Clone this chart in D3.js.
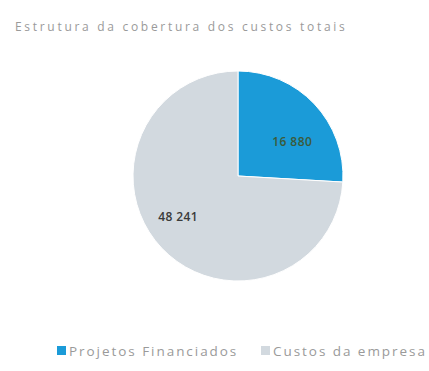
<!DOCTYPE html>
<html>
<head>
<meta charset="utf-8">
<script src="https://cdn.jsdelivr.net/npm/d3@7"></script>
<style>
  html, body { margin: 0; padding: 0; background: #ffffff; }
  svg { display: block; }
</style>
</head>
<body>
<svg id="chart" width="429" height="371"></svg>
<script>
// Coverage structure: share of funded projects vs. company costs
const title = "Estrutura da cobertura dos custos totais";
const categories = ["Projetos Financiados", "Custos da empresa"];
const values = [16880, 48241];
const labels = ["16 880", "48 241"];
const colors = ["#1b9bd8", "#d2d9df"];
const labelColors = ["#3b5a3a", "#3a3a3a"];

const svg = d3.select("#chart");
const cx = 238, cy = 176, radius = 105;

// Title
svg.append("text")
  .attr("x", 15).attr("y", 31)
  .attr("font-family", "Open Sans, sans-serif")
  .attr("font-size", 12)
  .attr("letter-spacing", 2.7)
  .attr("fill", "#9a9a9a")
  .text(title);

const color = d3.scaleOrdinal().domain(categories).range(colors);

const pie = d3.pie().sort(null).value(d => d.value)
  .startAngle(0).endAngle(2 * Math.PI);
const data = categories.map((c, i) => ({ name: c, value: values[i], label: labels[i], lc: labelColors[i] }));
const arcs = pie(data);

const arc = d3.arc().innerRadius(0).outerRadius(radius);
const g = svg.append("g").attr("transform", `translate(${cx},${cy})`);

g.selectAll("path").data(arcs).enter().append("path")
  .attr("d", arc)
  .attr("fill", d => color(d.data.name))
  .attr("stroke", "#ffffff")
  .attr("stroke-width", 1);

// Value labels: placed along each slice's sweep at a chosen fraction and radius
const labelPlace = [{ t: 0.62, r: 0.61 }, { t: 0.534, r: 0.69 }];
function labelPos(d, i) {
  const a = d.startAngle + (d.endAngle - d.startAngle) * labelPlace[i].t;
  const r = radius * labelPlace[i].r;
  return [Math.sin(a) * r, -Math.cos(a) * r];
}
g.selectAll("text.val").data(arcs).enter().append("text")
  .attr("class", "val")
  .attr("transform", (d, i) => {
    const p = labelPos(d, i);
    return `translate(${p[0]},${p[1]})`;
  })
  .attr("text-anchor", "middle")
  .attr("dy", "0.35em")
  .attr("font-family", "Open Sans, sans-serif")
  .attr("font-size", 12)
  .attr("font-weight", 600)
  .attr("letter-spacing", 0.4)
  .attr("fill", d => d.data.lc)
  .text(d => d.data.label);

// Legend
const legendX = [57, 261];
const legend = svg.append("g");
categories.forEach((c, i) => {
  legend.append("rect")
    .attr("x", legendX[i]).attr("y", 346)
    .attr("width", 9).attr("height", 9)
    .attr("fill", color(c));
  legend.append("text")
    .attr("x", legendX[i] + 12).attr("y", 355.5)
    .attr("font-family", "Open Sans, sans-serif")
    .attr("font-size", 13.5)
    .attr("letter-spacing", 1.95)
    .attr("fill", "#9a9a9a")
    .text(c);
});
</script>
</body>
</html>
